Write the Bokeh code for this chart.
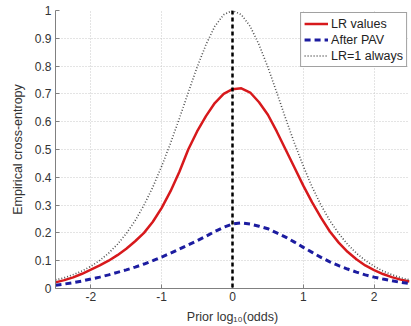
from bokeh.plotting import figure
from bokeh.models import Range1d, FixedTicker, NumeralTickFormatter, Span
from bokeh.embed import file_html
from bokeh.resources import INLINE

# prior log10(odds)
prior_log_odds = [-2.5, -2.375, -2.25, -2.125, -2.0, -1.875, -1.75, -1.625, -1.5, -1.375,
                  -1.25, -1.125, -1.0, -0.875, -0.75, -0.625, -0.5, -0.375, -0.25, -0.125,
                  0.0, 0.125, 0.25, 0.375, 0.5, 0.625, 0.75, 0.875, 1.0, 1.125,
                  1.25, 1.375, 1.5, 1.625, 1.75, 1.875, 2.0, 2.125, 2.25, 2.375, 2.5]

lr_values = [0.022, 0.030, 0.040, 0.053, 0.068, 0.083, 0.100, 0.120, 0.143, 0.170,
             0.200, 0.240, 0.290, 0.350, 0.420, 0.500, 0.565, 0.620, 0.667, 0.700,
             0.717, 0.720, 0.705, 0.670, 0.625, 0.565, 0.500, 0.435, 0.370, 0.310,
             0.255, 0.205, 0.165, 0.132, 0.105, 0.083, 0.066, 0.052, 0.041, 0.032, 0.025]

after_pav = [0.012, 0.016, 0.021, 0.027, 0.034, 0.041, 0.049, 0.058, 0.067, 0.077,
             0.088, 0.100, 0.113, 0.127, 0.142, 0.157, 0.172, 0.188, 0.205, 0.220,
             0.232, 0.236, 0.232, 0.224, 0.215, 0.200, 0.185, 0.167, 0.148, 0.130,
             0.112, 0.096, 0.082, 0.070, 0.059, 0.049, 0.041, 0.034, 0.028, 0.022, 0.018]

lr_one_always = [0.031, 0.039, 0.050, 0.063, 0.080, 0.101, 0.127, 0.159, 0.198, 0.244,
                 0.300, 0.365, 0.440, 0.523, 0.612, 0.705, 0.796, 0.877, 0.943, 0.985,
                 1.000, 0.985, 0.943, 0.877, 0.796, 0.705, 0.612, 0.523, 0.440, 0.365,
                 0.300, 0.244, 0.198, 0.159, 0.127, 0.101, 0.080, 0.063, 0.050, 0.039, 0.031]

x_ticks = [-2, -1, 0, 1, 2]
y_ticks = [0, 0.1, 0.2, 0.3, 0.4, 0.5, 0.6, 0.7, 0.8, 0.9, 1.0]

FONT = "Liberation Sans"

p = figure(width=411, height=326, x_range=Range1d(-2.5, 2.5), y_range=Range1d(0, 1),
           output_backend="svg", toolbar_location=None,
           min_border_left=55, min_border_right=2, min_border_top=10, min_border_bottom=37)
p.outline_line_color = None
p.background_fill_color = "white"
p.border_fill_color = "white"

p.line(prior_log_odds, lr_values, line_color="#d7191c", line_width=2.5, legend_label="LR values")
p.line(prior_log_odds, after_pav, line_color="#1c1ca0", line_width=3, line_dash="6 4",
       legend_label="After PAV")
p.line(prior_log_odds, lr_one_always, line_color="#505050", line_width=1.6, line_dash="1 2",
       legend_label="LR=1 always")

p.add_layout(Span(location=0, dimension="height", line_color="black", line_width=2.5,
                  line_dash="4 3"))

for ax in (p.xaxis[0], p.yaxis[0]):
    ax.axis_line_color = "#808080"
    ax.major_tick_line_color = "#808080"
    ax.major_tick_in = 4
    ax.major_tick_out = 0
    ax.minor_tick_line_color = None
    ax.major_label_text_font = FONT
    ax.major_label_text_font_size = "12px"
    ax.major_label_text_color = "#333333"
    ax.axis_label_text_font = FONT
    ax.axis_label_text_font_style = "normal"
    ax.axis_label_text_color = "#333333"

p.xaxis.ticker = FixedTicker(ticks=x_ticks)
p.yaxis.ticker = FixedTicker(ticks=y_ticks)
p.xaxis.formatter = NumeralTickFormatter(format="0")
p.yaxis.formatter = NumeralTickFormatter(format="0.[0]")
p.xaxis.axis_label = "Prior log\u2081\u2080(odds)"
p.yaxis.axis_label = "Empirical cross-entropy"
p.xaxis.axis_label_text_font_size = "12.5px"
p.yaxis.axis_label_text_font_size = "12.5px"
p.xaxis.major_label_standoff = 3
p.xaxis.axis_label_standoff = 6
p.yaxis.major_label_standoff = 4
p.yaxis.axis_label_standoff = 7

for g in (p.xgrid[0], p.ygrid[0]):
    g.grid_line_color = "#c8c8c8"
    g.grid_line_dash = "1 2"
    g.grid_line_width = 1

lg = p.legend[0]
lg.location = "top_right"
lg.margin = 2
lg.padding = 3
lg.spacing = 1
lg.border_line_color = "#444444"
lg.border_line_width = 1
lg.background_fill_color = "white"
lg.background_fill_alpha = 1
lg.label_text_font = FONT
lg.label_text_font_size = "12.5px"
lg.label_text_color = "#222222"
lg.glyph_width = 24
lg.glyph_height = 15
lg.label_height = 15
lg.label_standoff = 3

open("out.html", "w").write(file_html(p, INLINE))
